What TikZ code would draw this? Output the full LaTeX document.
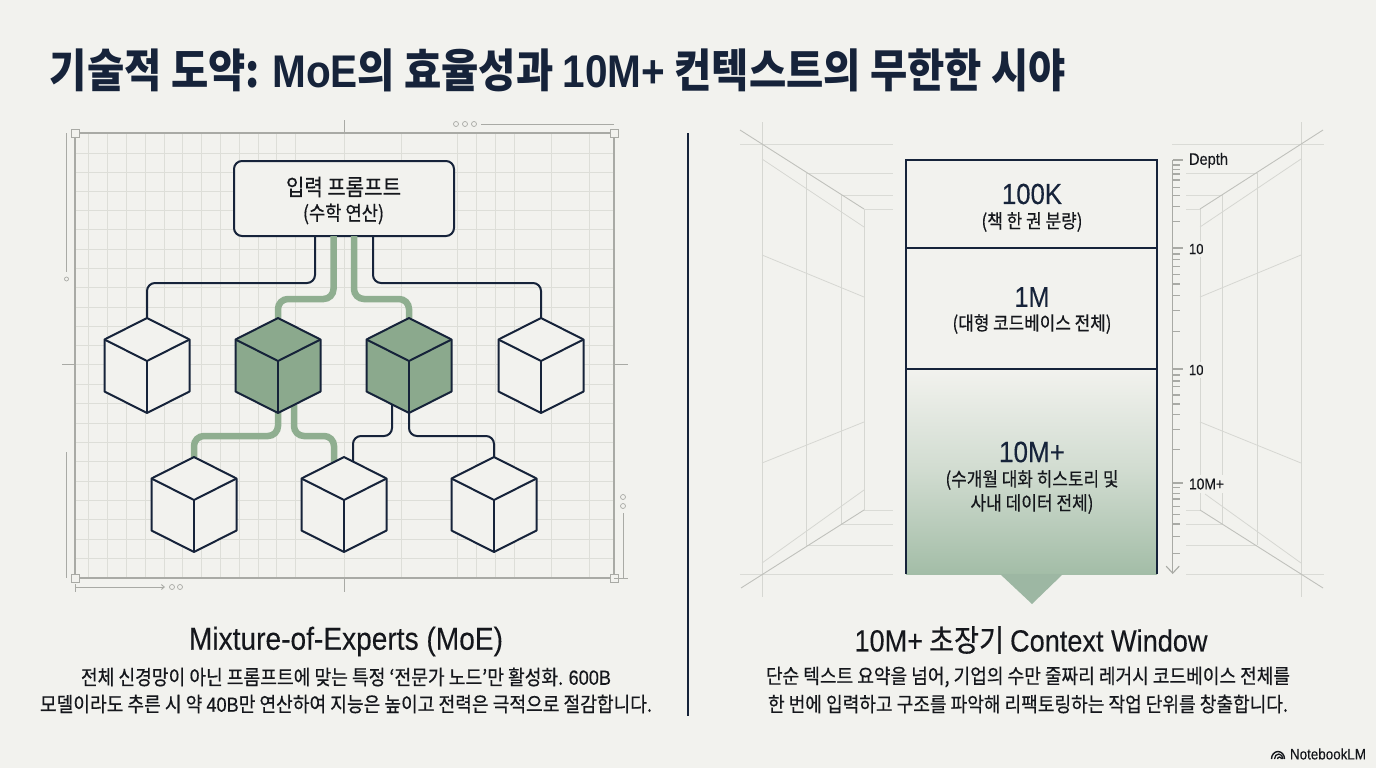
\documentclass[tikz,border=0pt]{standalone}
\usepackage{fontspec}
\setmainfont[FakeBold=0.5]{Noto Sans CJK KR}
\newfontfamily\titlekr{Noto Sans CJK KR}
\newfontfamily\lat[FakeBold=0.2]{Liberation Sans}
\newfontfamily\latb{Liberation Sans}
\usetikzlibrary{arrows.meta,calc}
\definecolor{bg}{HTML}{F2F2EE}
\definecolor{navy}{HTML}{16233A}
\definecolor{sage}{HTML}{8FAE90}
\definecolor{cubeg}{HTML}{8BA98D}
\definecolor{gridc}{HTML}{DDDED8}
\definecolor{framec}{HTML}{A9AAA5}
\definecolor{persp}{HTML}{D6D7D2}
\definecolor{perspd}{HTML}{C0C1BC}
\definecolor{gradend}{HTML}{A3BDA7}
\definecolor{inkc}{HTML}{15171C}
\newcommand{\fitw}[2]{\resizebox{#1pt}{!}{\scalebox{1}[1.13]{#2}}}
\newcommand{\cubeat}[4]{% name,x,top y,fill
  \coordinate (#1) at (#2,#3);
  \fill[#4] (#2,#3) -- ++(42.5,21.5) -- ++(0,52) -- ++(-42.5,21.5) -- ++(-42.5,-21.5) -- ++(0,-52) -- cycle;
  \draw[cubeedge] (#2,#3) -- ++(42.5,21.5) -- ++(0,52) -- ++(-42.5,21.5) -- ++(-42.5,-21.5) -- ++(0,-52) -- cycle;
  \draw[cubeedge] (#2-42.5,#3+21.5) -- (#2,#3+43) -- (#2+42.5,#3+21.5);
  \draw[cubeedge] (#2,#3+43) -- (#2,#3+95);
}
\tikzset{
  x=1pt,y=-1pt,
  gridline/.style={gridc,line width=0.9pt},
  frameline/.style={framec,line width=1.1pt},
  thinframe/.style={framec,line width=0.9pt},
  cornerbox/.style={draw=framec,fill=bg,line width=0.9pt,minimum size=8pt,inner sep=0pt,outer sep=0pt},
  dot/.style={draw=framec,line width=0.7pt,circle,minimum size=5pt,inner sep=0pt},
  cubeedge/.style={navy,line width=2pt,line join=round},
  navyconn/.style={navy,line width=2pt,rounded corners=8pt},
  sageconn/.style={sage,line width=6.5pt,rounded corners=10pt},
  perspv/.style={persp,line width=0.9pt},
  persph/.style={persp!85!bg,line width=1pt},
  perspdiag/.style={persp,line width=0.8pt},
  perspstrong/.style={perspd,line width=0.9pt},
  txt/.style={inner sep=0pt,outer sep=0pt,text=inkc},
  scalel/.style={txt,anchor=west,fill=bg,inner xsep=1pt,inner ysep=3pt},
}
\begin{document}
\begin{tikzpicture}
\useasboundingbox (0,0) rectangle (1376,768);
\fill[bg] (0,0) rectangle (1376,768);

% ---------- title
\node[txt,text=navy] (title) at (558,70) {\fitw{1016}{\titlekr\bfseries 기술적 도약: {\latb\bfseries MoE}의 효율성과 {\latb\bfseries 10M+} 컨텍스트의 무한한 시야}};

% ---------- left grid
\foreach \x in {88,107,126,145,164,182,201,220,239,258,276,295,344,401,457,476,495,514,551,589}
  \draw[gridline] (\x,133) -- (\x,578);
\foreach \y in {153,172,191,210,229,249,268,287,307,326,345,364,384,403,423,442,461,481,500,519,539,558}
  \draw[gridline] (75,\y) -- (614,\y);

% frame
\draw[frameline] (75,133) rectangle (614,578);
\node[cornerbox] (cTL) at (75,133) {};
\node[cornerbox] (cTR) at (614,133) {};
\node[cornerbox] (cBL) at (75,578) {};
\node[cornerbox] (cBR) at (614,578) {};
\draw[thinframe] (344,120) -- (344,133);
\draw[thinframe] (344,578) -- (344,592);
\draw[thinframe] (62,364) -- (75,364);
\draw[thinframe] (614,364) -- (628,364);
\draw[thinframe] (66,133) -- (66,272);
\node[dot,minimum size=4pt] (dl) at (66.5,279) {};
\draw[thinframe] (66,452) -- (66,578);
\node[dot] (dt1) at (456,124) {};
\node[dot] (dt2) at (465,124) {};
\node[dot] (dt3) at (474,124) {};
\coordinate (tl1) at (481,124);
\coordinate (tl2) at (614,124);
\draw[thinframe] (tl1) -- (tl2);
\draw[thinframe,-{Straight Barb[length=3pt,width=5pt]}] (75.5,587) -- (165,587);
\draw[thinframe] (75.5,584) -- (75.5,592);
\node[dot] (db1) at (172,587) {};
\node[dot] (db2) at (180,587) {};
\node[dot] (dr1) at (623,497) {};
\node[dot] (dr2) at (623,506) {};
\draw[thinframe] (623,513) -- (623,578);
\draw[thinframe] (614,578) -- (628,578);

% ---------- prompt box
\node[draw=navy,fill=bg,line width=2pt,rounded corners=8pt,minimum width=220pt,minimum height=75pt,inner sep=0pt,outer sep=0pt] (prompt) at (344,198.5) {};
\node[txt] (p1) at (343.5,187) {\fitw{115}{입력 프롬프트}};
\node[txt] (p2) at (343.5,214) {\fitw{81}{(수학 연산)}};

% ---------- anchors for connectors
\coordinate (b1) at (315,236);
\coordinate (b2) at (333.5,236);
\coordinate (b3) at (354,236);
\coordinate (b4) at (373,236);
\coordinate (h1) at (0,283);
\coordinate (h2) at (0,299);
\coordinate (h3) at (0,436);
\coordinate (A) at (147,318);
\coordinate (B) at (278,318);
\coordinate (C) at (409,318);
\coordinate (D) at (541,318);
\coordinate (E) at (194,457);
\coordinate (F) at (344,457);
\coordinate (G) at (494,457);
\coordinate (Bo1) at (278,405);
\coordinate (Bo2) at (294,405);
\coordinate (Co1) at (392,404);
\coordinate (Co2) at (409,405);
\coordinate (F1) at (334,462);
\coordinate (F2) at (353,462);

\draw[sageconn] (b2) -- (b2 |- h2) -- (B |- h2) -- (B);
\draw[sageconn] (b3) -- (b3 |- h2) -- (C |- h2) -- (C);
\draw[navyconn] (b1) -- (b1 |- h1) -- (A |- h1) -- (A);
\draw[navyconn] (b4) -- (b4 |- h1) -- (D |- h1) -- (D);
\draw[sageconn] (Bo1) -- (Bo1 |- h3) -- (E |- h3) -- (E);
\draw[sageconn] (Bo2) -- (Bo2 |- h3) -- (F1 |- h3) -- (F1);
\draw[navyconn] (Co1) -- (Co1 |- h3) -- (F2 |- h3) -- (F2);
\draw[navyconn] (Co2) -- (Co2 |- h3) -- (G |- h3) -- (G);

% ---------- cubes
\cubeat{cA}{147}{318}{bg}
\cubeat{cB}{278}{318}{cubeg}
\cubeat{cC}{409}{318}{cubeg}
\cubeat{cD}{541}{318}{bg}
\cubeat{cE}{194}{457}{bg}
\cubeat{cF}{344}{457}{bg}
\cubeat{cG}{494}{457}{bg}

% ---------- divider
\coordinate (v1) at (688,133);
\coordinate (v2) at (688,716);
\draw[navy,line width=1.3pt] (v1) -- (v2);

% ---------- left perspective
\foreach \x/\a/\b in {762/122/597,806/173/545,841/195/524,864/209/510}
  \draw[perspv] (\x,\a) -- (\x,\b);
\foreach \a/\b/\y in {740/893/144,806/893/173,841/893/195,864/893/209,864/893/510,841/893/524,806/893/545,740/893/574}
  \draw[persph] (\a,\y) -- (\b,\y);
\draw[perspstrong] (740,130) -- (864,209);
\draw[perspdiag] (762,159) -- (864,227);
\draw[perspdiag] (762,255) -- (864,297);
\draw[perspdiag] (762,463) -- (864,422);
\draw[perspdiag] (762,563) -- (864,490);
\draw[perspstrong] (741,588) -- (864,510);

% ---------- right perspective
\foreach \x/\a/\b in {1301/122/597,1257/173/545,1222/195/524,1200/209/510}
  \draw[perspv] (\x,\a) -- (\x,\b);
\foreach \a/\b/\y in {1172/1324/144,1186/1257/173,1186/1222/195,1186/1200/209,1186/1200/510,1186/1222/524,1186/1257/545,1186/1324/574}
  \draw[persph] (\a,\y) -- (\b,\y);
\draw[perspstrong] (1200,209) -- (1323,130);
\draw[perspdiag] (1200,227) -- (1301,159);
\draw[perspdiag] (1200,297) -- (1301,255);
\draw[perspdiag] (1200,422) -- (1301,463);
\draw[perspdiag] (1205,494) -- (1301,563);
\draw[perspstrong] (1200,510) -- (1323,588);

% ---------- scale
\draw[frameline,-{Straight Barb[length=7pt,width=13pt]}] (1172.7,160) -- (1172.7,574);
\foreach \z in {165,178,192,210,232,256,290,335,432,448,470,493,522,557,602,665,795,813,830,855,882,914,958,1018,1132,1150,1167,1190,1213,1242,1279,1331}
  \draw[frameline] (1172.7,{110+\z/3}) -- (1179.5,{110+\z/3});
\foreach \y in {160,248,369,483}
  \draw[frameline] (1172.7,\y) -- (1183,\y);
\node[scalel] (sd) at (1188,160.5) {\fitw{39}{\lat Depth}};
\node[scalel] (s1) at (1188,249) {\fitw{14.5}{\lat 10}};
\node[scalel] (s2) at (1188,370) {\fitw{14.5}{\lat 10}};
\node[scalel] (s3) at (1188,484) {\fitw{35}{\lat 10M+}};

% ---------- stack
\fill[bg] (906,160) rectangle (1157,574);
\shade[top color=bg,bottom color=gradend,middle color=bg!50!gradend!85!bg] (906,369) rectangle (1157,574);
\coordinate (tr1) at (1000,574);
\coordinate (tr2) at (1063,574);
\coordinate (tr3) at (1032,604);
\fill[gradend!96!navy] (tr1) -- (tr2) -- (tr3) -- cycle;
\coordinate (s-tl) at (906,160);
\coordinate (s-tr) at (1157,160);
\coordinate (s-bl) at (906,574);
\coordinate (s-br) at (1157,574);
\draw[navy,line width=1.6pt,line join=miter] (s-bl) -- (s-tl) -- (s-tr) -- (s-br);
\draw[navy,line width=1.1pt] (906,248) -- (1157,248);
\draw[navy,line width=1.1pt] (906,369) -- (1157,369);

\node[txt,text=navy] (t1) at (1032,194) {\fitw{60}{\lat 100K}};
\node[txt] (t1s) at (1032,222) {\fitw{101}{(책 한 권 분량)}};
\node[txt,text=navy] (t2) at (1032,297) {\fitw{35}{\lat 1M}};
\node[txt] (t2s) at (1032,324) {\fitw{159}{(대형 코드베이스 전체)}};
\node[txt,text=navy] (t3) at (1032,452) {\fitw{66}{\lat 10M+}};
\node[txt] (t3a) at (1032,480) {\fitw{173}{(수개월 대화 히스토리 및}};
\node[txt] (t3b) at (1032,504) {\fitw{123}{사내 데이터 전체)}};

% ---------- captions
\node[txt] (hL) at (346,641.5) {\fitw{314}{\lat Mixture-of-Experts (MoE)}};
\node[txt] (bL1) at (346,677) {\fitw{530}{전체 신경망이 아닌 프롬프트에 맞는 특정 ‘전문가 노드’만 활성화. {\lat 600B}}};
\node[txt] (bL2) at (346,704) {\fitw{612}{모델이라도 추른 시 약 {\lat 40B}만 연산하여 지능은 높이고 전력은 극적으로 절감합니다.}};
\node[txt] (hR) at (1031,640) {\fitw{353}{{\lat 10M+} 초장기 {\lat Context Window}}};
\node[txt] (bR1) at (1028,677) {\fitw{524}{단순 텍스트 요약을 넘어, 기업의 수만 줄짜리 레거시 코드베이스 전체를}};
\node[txt] (bR2) at (1028,704) {\fitw{520}{한 번에 입력하고 구조를 파악해 리팩토링하는 작업 단위를 창출합니다.}};

% ---------- logo
\node[txt,anchor=west] (nlm) at (1290,754) {\fitw{76}{\lat NotebookLM}};
\draw[inkc,line width=1.4pt] (1271.5,759) arc[start angle=180,end angle=360,x radius=6.5,y radius=7.5];
\draw[inkc,line width=1.3pt] (1274.5,759) arc[start angle=180,end angle=360,x radius=4.2,y radius=5];
\draw[inkc,line width=1.3pt] (1277.5,759) arc[start angle=180,end angle=360,radius=2];
\end{tikzpicture}
\end{document}
